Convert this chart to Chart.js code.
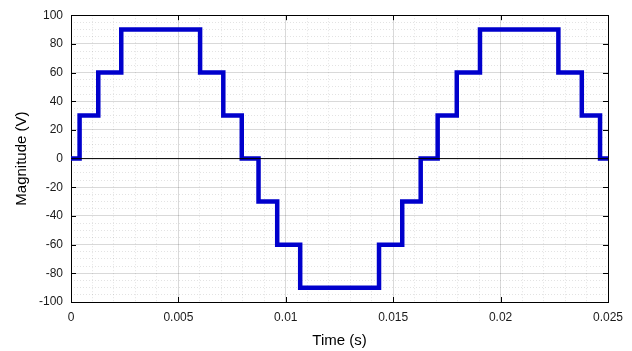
<!DOCTYPE html>
<html>
<head>
<meta charset="utf-8">
<script src="https://cdn.jsdelivr.net/npm/chart.js@4/dist/chart.umd.min.js"></script>
<style>
  html, body { margin: 0; padding: 0; background: #fff; }
  #wrap { width: 632px; height: 351px; }
</style>
</head>
<body>
<div id="wrap"><canvas id="c" width="632" height="351"></canvas></div>
<script>
// stepped voltage waveform, each value holds from its time until the next one
const stepTimes = [0, 0.0004, 0.00127, 0.00234, 0.00601, 0.00709, 0.00795, 0.00873, 0.0096, 0.01067,
    0.01434, 0.01542, 0.01628, 0.01707, 0.01796, 0.01904, 0.02269, 0.02378, 0.02463, 0.025];
const stepVolts = [0, 30, 60, 90, 60, 30, 0, -30, -60, -90,
    -60, -30, 0, 30, 60, 90, 60, 30, 0, 0];
const xMajor = [0, 0.005, 0.01, 0.015, 0.02, 0.025];
const yMajor = [-100, -80, -60, -40, -20, 0, 20, 40, 60, 80, 100];

const FONT = 'Liberation Sans, Arial, sans-serif';
const MAJOR = 'rgba(0, 0, 0, 0.15)';
const MINOR = 'rgba(0, 0, 0, 0.11)';

const isMajor = (v, list) => list.some(m => Math.abs(m - v) < 1e-9 * Math.max(1, Math.abs(m)) + 1e-9);

// box round the plot with MATLAB-style inward ticks
const boxPlugin = {
    id: 'box',
    beforeDatasetsDraw(chart) {
        const { ctx, chartArea: a, scales } = chart;
        ctx.save();
        ctx.strokeStyle = '#000';
        ctx.lineWidth = 1;
        ctx.beginPath();
        xMajor.forEach(v => {
            const px = Math.round(scales.x.getPixelForValue(v)) + 0.5;
            ctx.moveTo(px, a.bottom); ctx.lineTo(px, a.bottom - 5);
            ctx.moveTo(px, a.top); ctx.lineTo(px, a.top + 5);
        });
        yMajor.forEach(v => {
            const py = Math.round(scales.y.getPixelForValue(v)) + 0.5;
            ctx.moveTo(a.left, py); ctx.lineTo(a.left + 5, py);
            ctx.moveTo(a.right, py); ctx.lineTo(a.right - 5, py);
        });
        ctx.stroke();
        ctx.strokeRect(Math.round(a.left) + 0.5, Math.round(a.top) + 0.5,
            Math.round(a.right - a.left), Math.round(a.bottom - a.top));
        ctx.restore();
    },
};

new Chart(document.getElementById('c'), {
    type: 'line',
    data: {
        datasets: [
            {
                label: 'zero',
                data: [{ x: 0, y: 0 }, { x: 0.025, y: 0 }],
                borderColor: '#000',
                borderWidth: 1,
                pointRadius: 0,
            },
            {
                label: 'Magnitude',
                data: stepTimes.map((t, i) => ({ x: t, y: stepVolts[i] })),
                stepped: true,
                borderColor: '#0000cc',
                borderWidth: 4.5,
                pointRadius: 0,
                fill: false,
            },
        ],
    },
    options: {
        responsive: false,
        animation: false,
        layout: { padding: { top: 15, right: 24, left: 0, bottom: 0 } },
        plugins: { legend: { display: false }, tooltip: { enabled: false } },
        scales: {
            x: {
                type: 'linear',
                min: 0,
                max: 0.025,
                afterFit(scale) { scale.height = 49; },
                border: {
                    display: false,
                    dash: (ctx) => (ctx.tick && isMajor(ctx.tick.value, xMajor) ? [] : [1, 2]),
                },
                grid: {
                    drawTicks: false,
                    color: (ctx) => (ctx.tick && isMajor(ctx.tick.value, xMajor) ? MAJOR : MINOR),
                },
                ticks: {
                    stepSize: 0.001,
                    autoSkip: false,
                    maxRotation: 0,
                    padding: 8,
                    color: '#1a1a1a',
                    font: { family: FONT, size: 12 },
                    callback: (v) => (isMajor(v, xMajor) ? String(Math.round(v * 1000) / 1000) : ''),
                },
                title: {
                    display: true,
                    text: 'Time (s)',
                    color: '#000',
                    font: { family: FONT, size: 15 },
                    padding: { top: 0, bottom: 1 },
                },
            },
            y: {
                min: -100,
                max: 100,
                afterFit(scale) { scale.width = 71; },
                border: {
                    display: false,
                    dash: (ctx) => (ctx.tick && isMajor(ctx.tick.value, yMajor) ? [] : [1, 2]),
                },
                grid: {
                    drawTicks: false,
                    color: (ctx) => (ctx.tick && isMajor(ctx.tick.value, yMajor) ? MAJOR : MINOR),
                },
                ticks: {
                    stepSize: 5,
                    autoSkip: false,
                    padding: 8,
                    color: '#1a1a1a',
                    font: { family: FONT, size: 12 },
                    callback: (v) => (isMajor(v, yMajor) ? String(v) : ''),
                },
                title: {
                    display: true,
                    text: 'Magnitude (V)',
                    color: '#000',
                    font: { family: FONT, size: 15 },
                    padding: { top: 13, bottom: 0 },
                },
            },
        },
    },
    plugins: [boxPlugin],
});
</script>
</body>
</html>
